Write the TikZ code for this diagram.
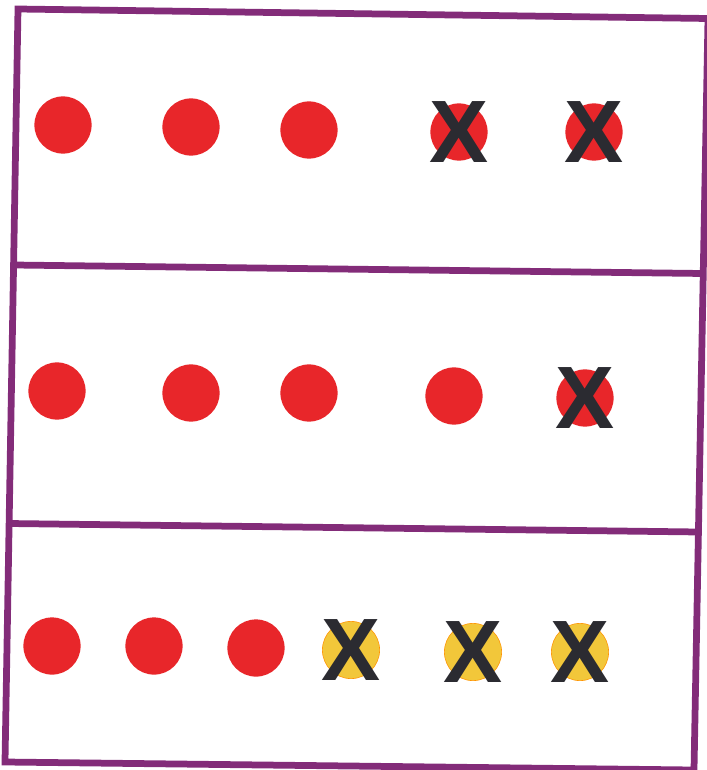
\documentclass[tikz,border=0pt]{standalone}
\usepackage{fontspec}
\setmainfont{Liberation Sans}
\definecolor{framec}{HTML}{832C79}
\definecolor{redc}{HTML}{E8262A}
\definecolor{yelc}{HTML}{F2C73A}
\definecolor{crossc}{HTML}{2B2B31}

\begin{document}
\begin{tikzpicture}[x=0.025cm,y=-0.025cm,
  spot/.style={circle,inner sep=0pt,minimum size=1.43cm},
  redspot/.style={spot,fill=redc},
  yelspot/.style={spot,fill=yelc,draw=orange!85!yellow,line width=0.4pt},
  cross/.style={text=crossc,inner sep=0pt,font=\bfseries\fontsize{63}{63}\selectfont},
  frame/.style={draw=framec,line width=4.8pt,line join=miter}]
  \useasboundingbox (0,0) rectangle (706,770);
  % frame corners (scan is slightly turned)
  \coordinate (tl) at (18,9);    \coordinate (tr) at (708,18.5);
  \coordinate (ml) at (14,265);  \coordinate (mr) at (703,273.5);
  \coordinate (nl) at (9,523.5); \coordinate (nr) at (699,532);
  \coordinate (bl) at (5,762);   \coordinate (br) at (694,770);
  \draw[frame] (bl) -- (tl) -- (tr) -- (br) -- cycle;
  \draw[frame] (ml) -- (mr);
  \draw[frame] (nl) -- (nr);

  % top panel: 5 red, last two crossed
  \foreach \n/\x/\y in {1/63/125,2/191/127,3/309/130,4/459/132,5/594/132}
    \node[redspot] (a\n) at (\x,\y) {};
  \node[cross] (xa4) at (a4) {X};
  \node[cross] (xa5) at (a5) {X};

  % middle panel: 5 red, last one crossed
  \foreach \n/\x/\y in {1/57/391,2/191/393,3/309/393,4/454/396,5/585/398}
    \node[redspot] (b\n) at (\x,\y) {};
  \node[cross] (xb5) at (b5) {X};

  % bottom panel: 3 red, 3 yellow crossed
  \foreach \n/\x/\y in {1/52/646,2/154/646,3/256/648}
    \node[redspot] (c\n) at (\x,\y) {};
  \foreach \n/\x/\y in {4/351/650,5/473/652,6/580/652}{
    \node[yelspot] (c\n) at (\x,\y) {};
    \node[cross] (xc\n) at (c\n) {X};
  }
\end{tikzpicture}
\end{document}
